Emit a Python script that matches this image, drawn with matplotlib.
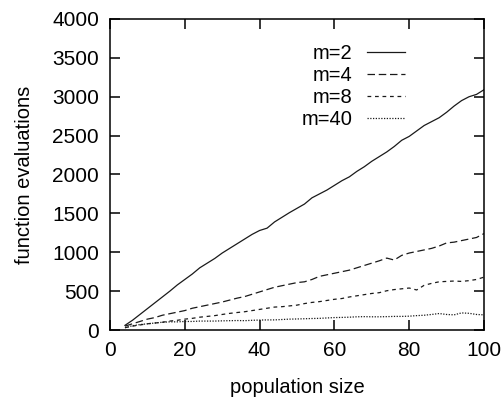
import matplotlib
matplotlib.use("Agg")
import matplotlib.pyplot as plt

plt.rcParams['font.family'] = ['Liberation Sans', 'DejaVu Sans']

pop_size = [4, 6, 8, 10, 12, 14, 16, 18, 20, 22, 24, 26, 28, 30, 32, 34, 36, 38, 40,
            42, 44, 46, 48, 50, 52, 54, 56, 58, 60, 62, 64, 66, 68, 70, 72, 74, 76,
            78, 80, 82, 84, 86, 88, 90, 92, 94, 96, 98, 100]

m2 = [60, 125, 200, 275, 350, 425, 500, 580, 650, 720, 800, 860, 920, 990, 1050,
      1110, 1170, 1230, 1280, 1310, 1390, 1450, 1510, 1565, 1620, 1700, 1750, 1800,
      1860, 1920, 1970, 2040, 2100, 2170, 2230, 2290, 2360, 2440, 2490, 2560, 2630,
      2680, 2730, 2800, 2880, 2950, 3000, 3030, 3090]

m4 = [50, 80, 110, 140, 160, 190, 210, 230, 250, 280, 300, 320, 340, 360, 385, 410,
      430, 460, 490, 520, 550, 570, 590, 610, 620, 650, 690, 710, 730, 750, 770, 800,
      830, 860, 890, 925, 900, 960, 990, 1010, 1030, 1050, 1080, 1120, 1130, 1150,
      1170, 1190, 1240]

m8 = [30, 50, 65, 80, 90, 100, 115, 125, 140, 150, 165, 175, 185, 200, 214, 225, 235,
      250, 265, 280, 295, 300, 310, 320, 340, 355, 365, 380, 395, 405, 425, 440, 455,
      470, 480, 505, 520, 530, 540, 515, 575, 600, 620, 625, 630, 625, 635, 650, 680]

m40 = [30, 55, 70, 80, 90, 100, 105, 105, 110, 110, 115, 115, 115, 118, 120, 122, 120,
       125, 128, 130, 130, 135, 140, 142, 145, 148, 150, 155, 160, 162, 165, 170, 172,
       170, 170, 172, 175, 175, 178, 185, 190, 200, 212, 200, 195, 220, 215, 200, 195]

labels = ["m=2", "m=4", "m=8", "m=40"]
x_ticks = [0, 20, 40, 60, 80, 100]
y_ticks = [0, 500, 1000, 1500, 2000, 2500, 3000, 3500, 4000]

fig = plt.figure(figsize=(5.03, 4.03), dpi=100)
ax = fig.add_axes([0.2187, 0.1811, 0.7435, 0.7718])

col = '#1a1a1a'
lw = 0.9
ax.plot(pop_size, m2, color=col, lw=lw, linestyle='-', label=labels[0])
ax.plot(pop_size, m4, color=col, lw=lw, linestyle=(0, (6, 3)), label=labels[1])
ax.plot(pop_size, m8, color=col, lw=lw, linestyle=(0, (3, 3)), label=labels[2])
ax.plot(pop_size, m40, color=col, lw=lw, linestyle=(0, (1, 1.2)), label=labels[3])

ax.set_xlim(0, 100)
ax.set_ylim(0, 4000)
ax.set_xticks(x_ticks)
ax.set_yticks(y_ticks)
ax.tick_params(direction='in', length=7, width=1.1, top=True, right=True,
               labelsize=15, colors='black')
ax.tick_params(axis='x', pad=8)
ax.tick_params(axis='y', pad=8)
for s in ax.spines.values():
    s.set_linewidth(1.1)

ax.set_xlabel("population size", fontsize=14.5, labelpad=13)
ax.set_ylabel("function evaluations", fontsize=14.5, labelpad=13)

leg = ax.legend(loc='upper right', bbox_to_anchor=(0.79, 0.92), frameon=False,
                markerfirst=False, fontsize=14.5, handlelength=1.9, handletextpad=0.75,
                labelspacing=0.15, borderpad=0, borderaxespad=0)
for t in leg.get_texts():
    t.set_ha('right')

fig.savefig("out.png", dpi=100)
